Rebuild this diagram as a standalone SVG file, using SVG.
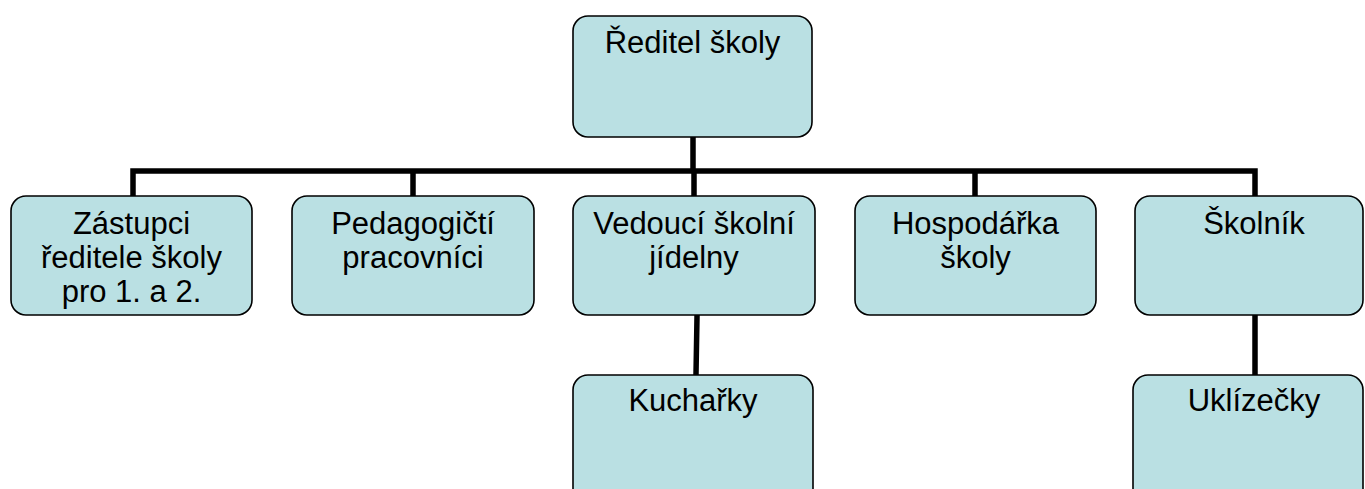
<svg xmlns="http://www.w3.org/2000/svg" width="1365" height="489" viewBox="0 0 1365 489">
<style>
.box{fill:#BAE0E3;stroke:#000;stroke-width:1.6}
.conn{stroke:#000;stroke-width:5.5;fill:none;stroke-linecap:square}
.t{font-family:"Liberation Sans",Arial,sans-serif;font-size:31px;fill:#000;text-anchor:middle}
</style>
<rect width="1365" height="489" fill="#fff"/>
<g id="connectors">
<path class="conn" d="M693 138V171M133 171H1255M133 171V195M413 171V195M694 171V195M975 171V195M1255 171V195"/>
<path class="conn" d="M697 317L696 374M1255 317V374"/>
</g>
<g id="n-reditel">
<rect class="box" x="573" y="16" width="239" height="121" rx="15"/>
<text class="t" x="692.5" y="53">Ředitel školy</text>
</g>
<g id="n-zastupci">
<rect class="box" x="11" y="196" width="241" height="119" rx="15"/>
<text class="t"><tspan x="131.5" y="234">Zástupci</tspan><tspan x="131.5" y="268">ředitele školy</tspan><tspan x="131.5" y="302">pro 1. a 2.</tspan></text>
</g>
<g id="n-pedagogicti">
<rect class="box" x="292" y="196" width="242" height="119" rx="15"/>
<text class="t"><tspan x="413" y="234">Pedagogičtí</tspan><tspan x="413" y="268">pracovníci</tspan></text>
</g>
<g id="n-vedouci">
<rect class="box" x="573" y="196" width="242" height="119" rx="15"/>
<text class="t"><tspan x="694" y="234">Vedoucí školní</tspan><tspan x="694" y="268">jídelny</tspan></text>
</g>
<g id="n-hospodarka">
<rect class="box" x="855" y="196" width="241" height="119" rx="15"/>
<text class="t"><tspan x="975.5" y="234">Hospodářka</tspan><tspan x="975.5" y="268">školy</tspan></text>
</g>
<g id="n-skolnik">
<rect class="box" x="1135" y="196" width="228" height="119" rx="15"/>
<text class="t" x="1254" y="234">Školník</text>
</g>
<g id="n-kucharky">
<rect class="box" x="573" y="375" width="240" height="130" rx="15"/>
<text class="t" x="693" y="411">Kuchařky</text>
</g>
<g id="n-uklizecky">
<rect class="box" x="1133" y="375" width="230" height="130" rx="15"/>
<text class="t" x="1254" y="411">Uklízečky</text>
</g>
</svg>
